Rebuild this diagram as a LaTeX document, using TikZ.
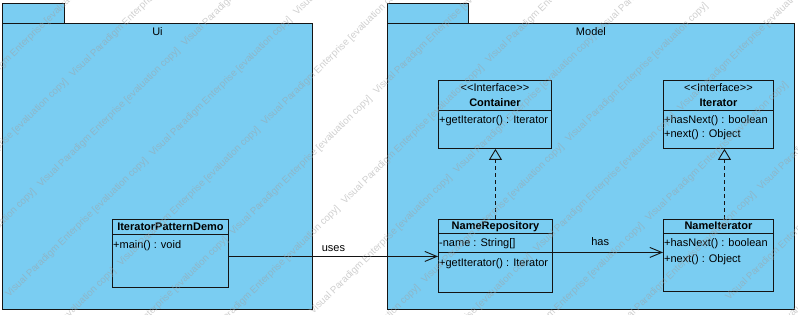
\documentclass[tikz,border=0pt]{standalone}
\usepackage{fontspec}
\setmainfont{Liberation Sans}
\usetikzlibrary{arrows.meta,calc}

\definecolor{pkgblue}{RGB}{122,205,242}
\definecolor{inkline}{RGB}{20,20,20}
\definecolor{markgray}{RGB}{160,160,160}

\newcommand{\umlfont}{\fontsize{11}{12}\selectfont}

\tikzset{
  pkgshape/.style={draw=inkline, line width=0.9pt, fill=pkgblue, inner sep=0pt, anchor=north west},
  umlclass/.style={draw=inkline, line width=0.9pt, fill=pkgblue, inner sep=0pt, anchor=north west},
  compsep/.style={draw=inkline, line width=0.9pt},
  member/.style={anchor=base west, inner sep=0pt, font=\umlfont},
  cname/.style={anchor=base, inner sep=0pt, font=\umlfont\bfseries},
  plain/.style={anchor=base, inner sep=0pt, font=\umlfont},
  assoc/.style={draw=inkline, line width=0.9pt, -{Straight Barb[length=12pt,width=10pt]}},
  realize/.style={draw=inkline, line width=0.9pt, dash pattern=on 4pt off 3pt,
    -{Triangle[open,length=11pt,width=13pt]}},
  wmark/.style={anchor=base west, rotate=44.4, inner sep=0pt,
    font=\fontsize{9.8}{10}\selectfont, text=markgray, opacity=0.5},
}

\begin{document}
\begin{tikzpicture}[x=1pt,y=-1pt]
\useasboundingbox (0,0) rectangle (798,315);

% ---- packages ----
\node[pkgshape, minimum width=62pt, minimum height=20pt] (uitab) at (2,3) {};
\node[pkgshape, minimum width=310pt, minimum height=286pt] (ui) at (2,23) {};
\node[plain] at ($(ui.north)+(0,13)$) {Ui};

\node[pkgshape, minimum width=81pt, minimum height=20pt] (modeltab) at (387,3) {};
\node[pkgshape, minimum width=407pt, minimum height=286pt] (model) at (387,23) {};
\node[plain] at ($(model.north)+(0,13)$) {Model};

% ---- IteratorPatternDemo ----
\node[umlclass, minimum width=116pt, minimum height=68pt] (demo) at (112,219) {};
\draw[compsep] ($(demo.north west)+(0,15)$) -- ($(demo.north east)+(0,15)$);
\node[cname] at ($(demo.north)+(0,12)$) {IteratorPatternDemo};
\node[member] at ($(demo.north west)+(1,29)$) {+main() : void};

% ---- Container ----
\node[umlclass, minimum width=113pt, minimum height=68pt] (container) at (438,80) {};
\draw[compsep] ($(container.north west)+(0,30)$) -- ($(container.north east)+(0,30)$);
\node[plain] at ($(container.north)+(0,12)$) {<\kern0pt<Interface>\kern0pt>};
\node[cname] at ($(container.north)+(0,27)$) {Container};
\node[member] at ($(container.north west)+(1,44)$) {+getIterator() : Iterator};

% ---- Iterator ----
\node[umlclass, minimum width=110pt, minimum height=68pt] (iterator) at (663,80) {};
\draw[compsep] ($(iterator.north west)+(0,30)$) -- ($(iterator.north east)+(0,30)$);
\node[plain] at ($(iterator.north)+(0,12)$) {<\kern0pt<Interface>\kern0pt>};
\node[cname] at ($(iterator.north)+(0,27)$) {Iterator};
\node[member] at ($(iterator.north west)+(1,44)$) {+hasNext() : boolean};
\node[member] at ($(iterator.north west)+(1,58)$) {+next() : Object};

% ---- NameRepository ----
\node[umlclass, minimum width=114pt, minimum height=73pt] (repo) at (438,219) {};
\draw[compsep] ($(repo.north west)+(0,14.5)$) -- ($(repo.north east)+(0,14.5)$);
\draw[compsep] ($(repo.north west)+(0,33)$) -- ($(repo.north east)+(0,33)$);
\node[cname] at ($(repo.north)+(0,11)$) {NameRepository};
\node[member] at ($(repo.north west)+(1,28)$) {-name : String[]};
\node[member] at ($(repo.north west)+(1,47)$) {+getIterator() : Iterator};

% ---- NameIterator ----
\node[umlclass, minimum width=110pt, minimum height=72pt] (nameiter) at (663,219) {};
\draw[compsep] ($(nameiter.north west)+(0,14.5)$) -- ($(nameiter.north east)+(0,14.5)$);
\node[cname] at ($(nameiter.north)+(0,11)$) {NameIterator};
\node[member] at ($(nameiter.north west)+(1,28)$) {+hasNext() : boolean};
\node[member] at ($(nameiter.north west)+(1,43)$) {+next() : Object};

% ---- connectors ----
\draw[assoc] ([yshift=-3pt]demo.east) -- ([yshift=-3pt]demo.east -| repo.west)
  node[plain, midway, yshift=5pt] {uses};
\draw[assoc] ([yshift=3.5pt]repo.east) -- ([yshift=3.5pt]repo.east -| nameiter.west)
  node[plain, pos=0.43, yshift=7pt] {has};
\draw[realize] (repo.north) -- (repo.north |- container.south);
\draw[realize] ([xshift=6pt]nameiter.north) -- ([xshift=6pt]nameiter.north |- iterator.south);

% ---- evaluation watermark (only tiles that reach the canvas) ----
\begin{scope}
\clip (0,0) rectangle (798,315);
\foreach \i in {-4,...,9}{
  \foreach \j in {-3,...,6}{
    \pgfmathsetmacro\wx{73+112*\i+80*\j}
    \pgfmathsetmacro\wy{78-31*\i+79*\j}
    \pgfmathtruncatemacro\wok{and(and(\wx<790,\wx>-130),and(\wy>8,\wy<440))}
    \ifnum\wok=1
      \node[wmark] at (\wx,\wy) {Visual Paradigm Enterprise [evaluation copy]};
    \fi
  }
}
\end{scope}
\end{tikzpicture}
\end{document}
